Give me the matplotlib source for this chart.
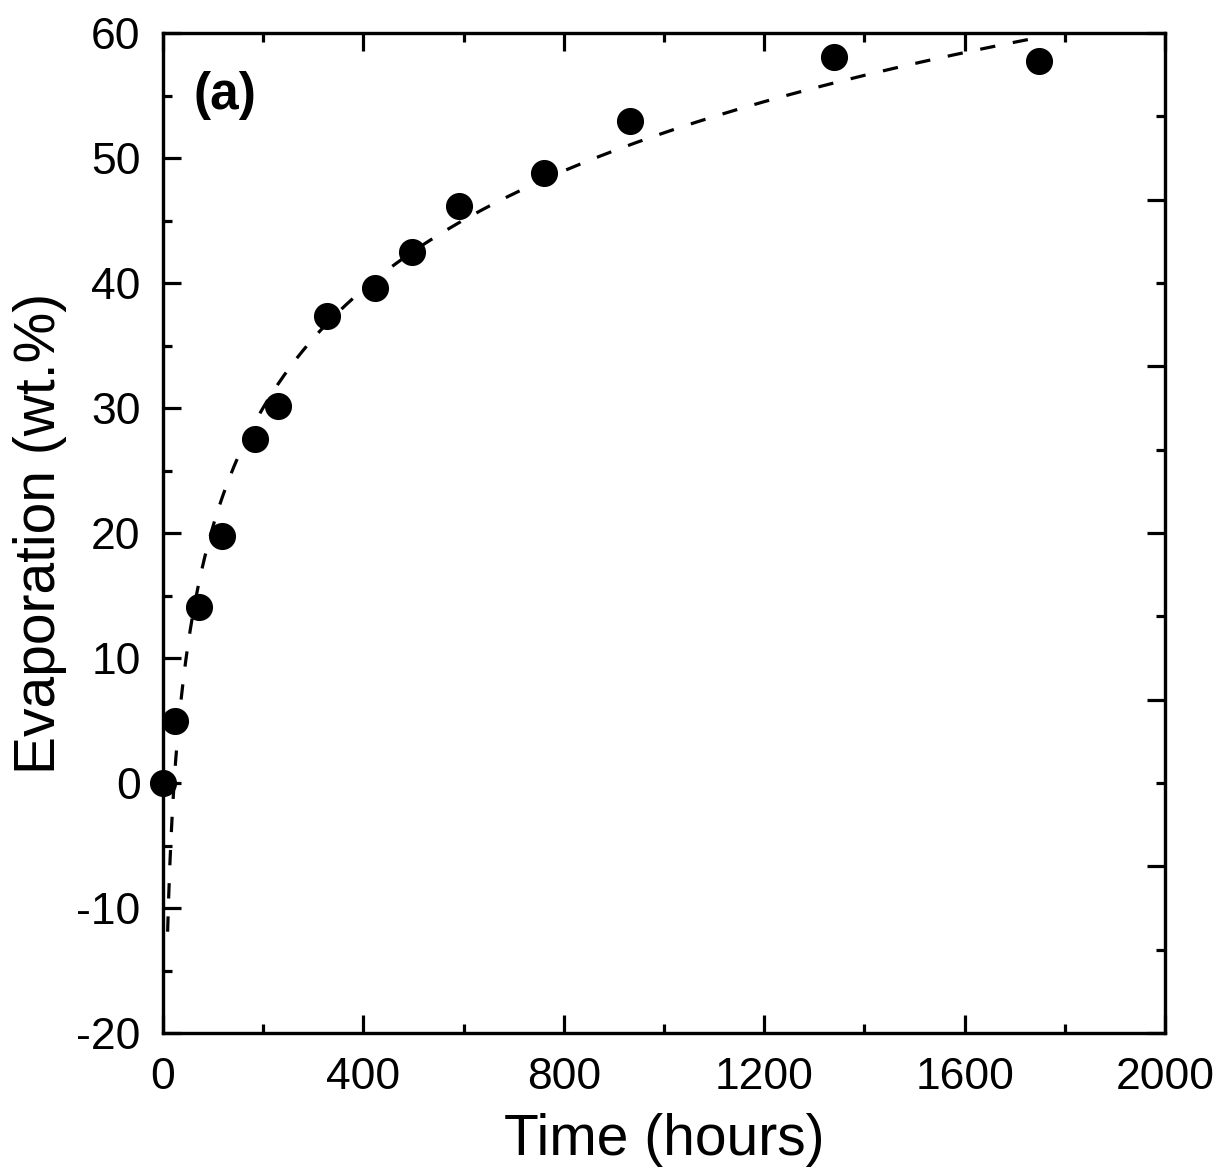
import numpy as np
import matplotlib
matplotlib.use("Agg")
import matplotlib.pyplot as plt
from matplotlib.ticker import MultipleLocator

plt.rcParams['font.family'] = ['Liberation Sans', 'DejaVu Sans']
plt.rcParams['axes.unicode_minus'] = False

# measured evaporation points
time_h = [0, 24, 72, 117, 184, 229, 327, 424, 497, 591, 761, 932, 1340, 1749]
evap_pct = [0.0, 5.0, 14.1, 19.8, 27.5, 30.2, 37.4, 39.6, 42.5, 46.2, 48.8, 53.0, 58.1, 57.8]

# range of the logarithmic fit curve shown in the figure
fit_t_start = 9.3
fit_t_end = 1750

x_ticks = [0, 400, 800, 1200, 1600, 2000]
y_ticks = [-20, -10, 0, 10, 20, 30, 40, 50, 60]

# log fit  evap = a*ln(t) + b  (t = 0 point left out)
t_arr = np.array(time_h[1:], dtype=float)
e_arr = np.array(evap_pct[1:], dtype=float)
a, b = np.polyfit(np.log(t_arr), e_arr, 1)
t_fit = np.geomspace(fit_t_start, fit_t_end, 400)
e_fit = a * np.log(t_fit) + b

fig = plt.figure(figsize=(12.18, 11.69), dpi=100)
ax = fig.add_axes([0.1338, 0.1163, 0.8227, 0.8554])

ax.plot(t_fit, e_fit, color='black', lw=2.3, ls=(0, (4.8, 5.6)), zorder=2)
ax.plot(time_h, evap_pct, 'o', color='black', ms=18.5, zorder=3, clip_on=False)

ax.set_xlim(0, 2000)
ax.set_ylim(-20, 60)
ax.set_xticks(x_ticks)
ax.set_yticks(y_ticks)
ax.xaxis.set_minor_locator(MultipleLocator(200))
ax.yaxis.set_minor_locator(MultipleLocator(5))

for s in ax.spines.values():
    s.set_linewidth(2.3)

ax.tick_params(which='both', direction='in', width=2.3, labelsize=32,
               top=True, right=False)
ax.tick_params(axis='x', which='major', length=13, pad=17)
ax.tick_params(axis='y', which='major', length=13, pad=16)
ax.tick_params(which='minor', length=6.5)

# right side has its own tick spacing in the original
ax2 = ax.twinx()
ax2.set_ylim(0, 6)
ax2.yaxis.set_major_locator(MultipleLocator(1))
ax2.yaxis.set_minor_locator(MultipleLocator(0.5))
ax2.tick_params(which='both', direction='in', width=2.3, labelright=False)
ax2.tick_params(which='major', length=13)
ax2.tick_params(which='minor', length=6.5)
for s in ax2.spines.values():
    s.set_linewidth(2.3)

ax.set_xlabel('Time (hours)', fontsize=41, labelpad=11)
ax.set_ylabel('Evaporation (wt.%)', fontsize=41, labelpad=7)

ax.text(0.03, 0.938, '(a)', transform=ax.transAxes, fontsize=37,
        fontweight='bold', ha='left', va='center')

fig.savefig('out.png', dpi=100)
